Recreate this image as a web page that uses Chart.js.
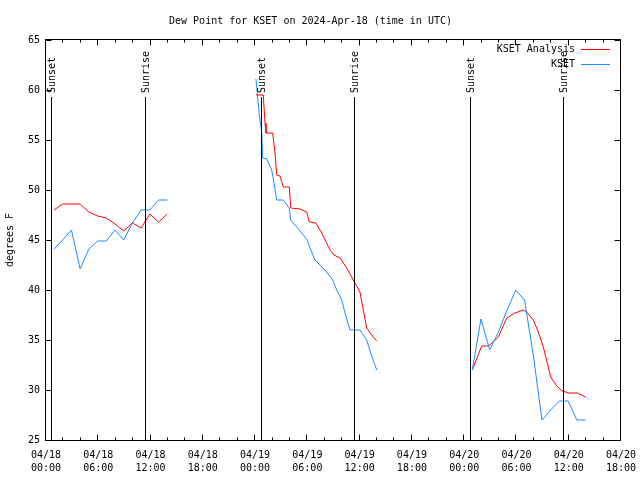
<!DOCTYPE html>
<html>
<head>
<meta charset="utf-8">
<script src="https://cdn.jsdelivr.net/npm/chart.js@4.4.1/dist/chart.umd.min.js"></script>
<style>
  html, body { margin: 0; padding: 0; background: #fff; }
  canvas { display: block; }
</style>
</head>
<body>
<canvas id="chart" width="640" height="480" style="width:640px;height:480px"></canvas>
<script>
// hours since 04/18 00:00 UTC; null dew point breaks the line between days
const analysisHours = [
  0.92, 1.92, 2.92, 3.92, 4.92, 5.92, 6.92, 7.92, 8.92, 9.92, 10.92, 11.92, 12.92, 13.92,
  19,
  24.10, 24.94, 25.14, 25.25, 26.02, 26.29, 26.48, 26.86, 27.24, 27.93, 28.09, 29.16, 29.92,
  30.22, 30.99, 31.64, 32.60, 33.06, 33.75, 34.52, 35.27, 36.04, 36.42, 36.81, 37.38, 37.96,
  43,
  48.93, 50.01, 50.77, 51.34, 51.92, 52.88, 53.83, 54.79, 55.18, 55.93, 56.51, 57.08, 57.54,
  57.93, 58.62, 59.25, 60.03, 60.98, 61.95
];
const analysisDew = [
  48.0, 48.6, 48.6, 48.6, 47.8, 47.4, 47.2, 46.6, 45.9, 46.7, 46.2, 47.6, 46.8, 47.6,
  null,
  59.5, 59.5, 56.7, 55.7, 55.7, 53.7, 51.5, 51.4, 50.3, 50.3, 48.2, 48.1, 47.8,
  46.8, 46.7, 45.7, 44.0, 43.5, 43.2, 42.2, 41.0, 39.8, 38.0, 36.2, 35.5, 34.9,
  null,
  32.0, 34.4, 34.4, 34.8, 35.3, 37.2, 37.7, 38.0, 37.8, 37.0, 35.8, 34.3, 32.7,
  31.3, 30.4, 29.9, 29.7, 29.7, 29.3
];

const obsHours = [
  0.92, 1.92, 2.92, 3.92, 4.92, 5.92, 6.92, 7.92, 8.92, 9.92, 10.92, 11.92, 12.92, 13.92,
  19,
  24.10, 24.48, 24.76, 24.87, 25.33, 25.91, 26.17, 26.48, 27.24, 27.93, 28.09, 28.78, 29.53,
  29.99, 30.30, 30.88, 31.45, 32.22, 32.91, 33.37, 33.94, 34.32, 34.89, 36.04, 36.81, 37.27, 37.96,
  43,
  48.93, 49.93, 50.93, 51.93, 52.93, 53.93, 54.93, 55.93, 56.93, 57.93, 58.93, 59.93, 60.93, 61.93
];
const obsDew = [
  44.1, 45.0, 46.0, 42.1, 44.1, 44.9, 44.9, 46.0, 45.0, 46.7, 48.0, 48.0, 49.0, 49.0,
  null,
  61.1, 57.5, 55.8, 53.2, 53.1, 52.0, 50.7, 49.0, 49.0, 48.2, 47.0, 46.3, 45.5,
  45.0, 44.2, 43.0, 42.5, 41.8, 41.0, 40.0, 39.0, 37.7, 36.0, 36.0, 35.0, 33.7, 32.0,
  null,
  32.0, 37.1, 34.0, 35.8, 38.0, 40.0, 39.0, 33.5, 27.0, 28.0, 28.9, 28.9, 27.0, 27.0
];

const sunHours = [0.57, 11.40, 24.64, 35.39, 48.71, 59.38];
const sunLabels = ['Sunset', 'Sunrise', 'Sunset', 'Sunrise', 'Sunset', 'Sunrise'];

const xTickLabels = [
  ['04/18', '00:00'], ['04/18', '06:00'], ['04/18', '12:00'], ['04/18', '18:00'],
  ['04/19', '00:00'], ['04/19', '06:00'], ['04/19', '12:00'], ['04/19', '18:00'],
  ['04/20', '00:00'], ['04/20', '06:00'], ['04/20', '12:00'], ['04/20', '18:00']
];

const seriesNames = ['KSET Analysis', 'KSET'];
const seriesColors = ['#ff0000', '#1a8cff'];

const FONT = '"DejaVu Sans Mono", "Liberation Mono", monospace';

const toPoints = (xs, ys) => xs.map((h, i) => ({ x: h, y: ys[i] }));

// frame, inward ticks, sun lines and the gnuplot-style legend
const gnuplotFrame = {
  id: 'gnuplotFrame',
  afterDatasetsDraw(chart) {
    const { ctx, chartArea: a, scales: { x, y } } = chart;
    ctx.save();
    ctx.strokeStyle = '#000';
    ctx.fillStyle = '#000';
    ctx.lineWidth = 1;
    ctx.font = '10px ' + FONT;

    sunHours.forEach((h, i) => {
      const px = Math.round(x.getPixelForValue(h)) + 0.5;
      ctx.beginPath();
      ctx.moveTo(px, a.top + 57);
      ctx.lineTo(px, a.bottom);
      ctx.stroke();
      ctx.save();
      ctx.translate(px + 1, a.top + 53);
      ctx.rotate(-Math.PI / 2);
      ctx.textAlign = 'left';
      ctx.textBaseline = 'middle';
      ctx.fillText(sunLabels[i], 0, 0);
      ctx.restore();
    });

    const L = a.left - 0.5, R = a.right - 0.5, T = a.top - 0.5, B = a.bottom + 0.5;
    ctx.strokeRect(L, T, R - L, B - T);

    ctx.beginPath();
    for (let h = 0; h <= 66; h += 2) {
      const px = Math.round(x.getPixelForValue(h)) - 0.5;
      const len = h % 6 === 0 ? 6 : 3;
      ctx.moveTo(px, B); ctx.lineTo(px, B - len);
      ctx.moveTo(px, T); ctx.lineTo(px, T + len);
    }
    for (let v = 25; v <= 65; v += 5) {
      const py = Math.round(y.getPixelForValue(v)) + 0.5;
      ctx.moveTo(L, py); ctx.lineTo(L + 6, py);
      ctx.moveTo(R, py); ctx.lineTo(R - 6, py);
    }
    ctx.stroke();

    seriesNames.forEach((name, i) => {
      const ly = a.top + 9 + i * 15;
      ctx.textAlign = 'right';
      ctx.textBaseline = 'middle';
      ctx.fillStyle = '#000';
      ctx.fillText(name, a.right - 46, ly);
      ctx.strokeStyle = seriesColors[i];
      ctx.beginPath();
      ctx.moveTo(a.right - 40, ly + 0.5);
      ctx.lineTo(a.right - 11, ly + 0.5);
      ctx.stroke();
    });
    ctx.restore();
  }
};

new Chart(document.getElementById('chart'), {
  type: 'line',
  data: {
    datasets: [
      {
        label: seriesNames[0],
        data: toPoints(analysisHours, analysisDew),
        borderColor: seriesColors[0],
        borderWidth: 1,
        pointRadius: 0,
        tension: 0,
        spanGaps: false,
        order: 1
      },
      {
        label: seriesNames[1],
        data: toPoints(obsHours, obsDew),
        borderColor: seriesColors[1],
        borderWidth: 1,
        pointRadius: 0,
        tension: 0,
        spanGaps: false,
        order: 0
      }
    ]
  },
  options: {
    responsive: false,
    devicePixelRatio: 1,
    animation: false,
    layout: { padding: { left: 0, right: 19, top: 0, bottom: 0 } },
    plugins: {
      legend: { display: false },
      tooltip: { enabled: false },
      title: {
        display: true,
        text: 'Dew Point for KSET on 2024-Apr-18 (time in UTC)',
        color: '#000',
        font: { family: FONT, size: 10, weight: 'normal', lineHeight: 1.2 },
        padding: { top: 15, bottom: 13 }
      }
    },
    scales: {
      x: {
        type: 'linear',
        min: 0,
        max: 66,
        grid: { display: false, drawTicks: false },
        border: { display: false },
        afterFit: s => {
          s.height = 40;
          s.paddingLeft = 0;
          s.paddingRight = 0;
        },
        ticks: {
          stepSize: 6,
          autoSkip: false,
          maxRotation: 0,
          padding: 9,
          color: '#000',
          font: { family: FONT, size: 10, lineHeight: 1.3 },
          callback: v => xTickLabels[v / 6]
        }
      },
      y: {
        min: 25,
        max: 65,
        grid: { display: false, drawTicks: false },
        border: { display: false },
        afterFit: s => { s.width = 46; },
        title: {
          display: true,
          text: 'degrees F',
          color: '#000',
          font: { family: FONT, size: 10 },
          padding: { top: 4, bottom: 0 }
        },
        ticks: {
          stepSize: 5,
          padding: 6,
          color: '#000',
          font: { family: FONT, size: 10 }
        }
      }
    }
  },
  plugins: [gnuplotFrame]
});
</script>
</body>
</html>
